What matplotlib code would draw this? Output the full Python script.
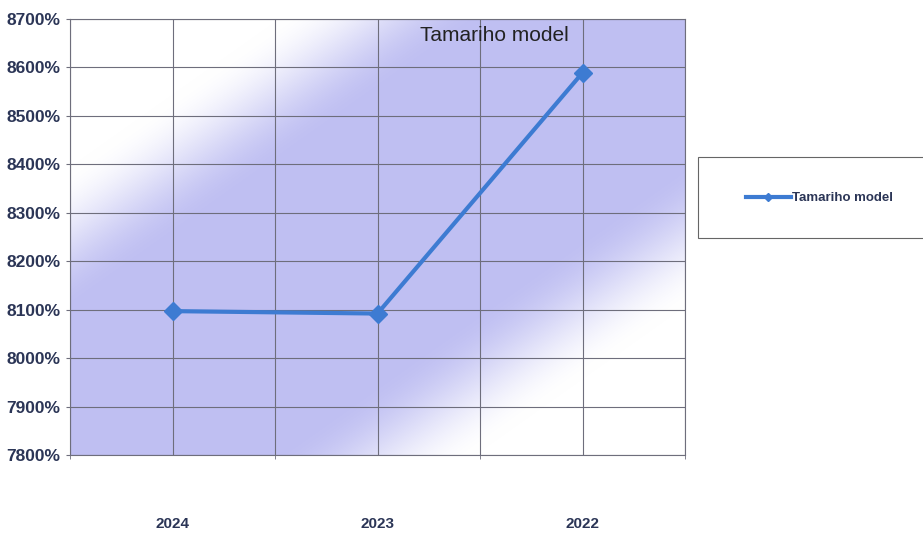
import numpy as np
import matplotlib.pyplot as plt
from matplotlib.patches import Rectangle
from matplotlib.ticker import FuncFormatter, MultipleLocator

# data
years = ['2024', '2023', '2022']
tamariho = [8097, 8092, 8589]   # percent
series_name = 'Tamariho model'

plt.rcParams['font.family'] = ['Liberation Sans', 'DejaVu Sans']

fig = plt.figure(figsize=(9.23, 5.40), dpi=100)
ax = fig.add_axes([70 / 923, 1 - 455 / 540, 615 / 923, 436 / 540])

# diagonal white - lavender - white background (band along the rising diagonal)
u, v = np.meshgrid(np.linspace(0, 1, 615), np.linspace(1, 0, 436))
s = np.abs(u - v)
k = np.clip((0.66 - s) / (0.66 - 0.33), 0, 1)
k = k * k * (3 - 2 * k)
lav = np.array([0.75, 0.75, 0.95])
img = 1 - k[..., None] * (1 - lav)
ax.imshow(img, extent=[0, 1, 0, 1], transform=ax.transAxes, aspect='auto',
          zorder=0, interpolation='bilinear')

x = np.arange(len(years)) + 0.5
ax.plot(x, tamariho, color='#3d7bd2', lw=3.0, marker='D', ms=9,
        label=series_name, zorder=3)

ax.set_xlim(0, len(years))
ax.set_ylim(7800, 8700)
ax.set_xticks(x)
ax.set_xticklabels(years)
ax.xaxis.set_minor_locator(MultipleLocator(0.5))
ax.yaxis.set_major_locator(MultipleLocator(100))
ax.yaxis.set_major_formatter(FuncFormatter(lambda v, p: '%d%%' % v))

grid_color = '#6e6e7c'
ax.grid(True, which='both', axis='x', color=grid_color, lw=0.8, zorder=1)
ax.grid(True, which='major', axis='y', color=grid_color, lw=0.8, zorder=1)
ax.set_axisbelow(False)
for sp in ax.spines.values():
    sp.set_color(grid_color)
    sp.set_linewidth(0.8)

label_color = '#2b3556'
ax.tick_params(axis='y', length=3, pad=4, color=grid_color,
               labelsize=12.5, labelcolor=label_color)
ax.tick_params(axis='x', which='major', length=0, pad=45,
               labelsize=11, labelcolor=label_color)
ax.tick_params(axis='x', which='minor', length=3, color=grid_color)
for t in ax.get_xticklabels() + ax.get_yticklabels():
    t.set_fontweight('bold')

ax.text(0.69, 0.985, series_name, transform=ax.transAxes, ha='center',
        va='top', fontsize=15, color='#222222', zorder=4)

# legend box, running off the right edge
fig.patches.append(Rectangle((698 / 923, 1 - 238 / 540), 240 / 923, 81 / 540,
                             transform=fig.transFigure, facecolor='white',
                             edgecolor='#666666', lw=0.8))
fig.legend(loc='center left', bbox_to_anchor=(734 / 923, 1 - 198 / 540),
           frameon=False, handlelength=3.4, handletextpad=0.1,
           prop={'weight': 'bold', 'size': 9.5}, labelcolor=label_color,
           markerscale=0.5)

fig.savefig('out.png', dpi=100)
